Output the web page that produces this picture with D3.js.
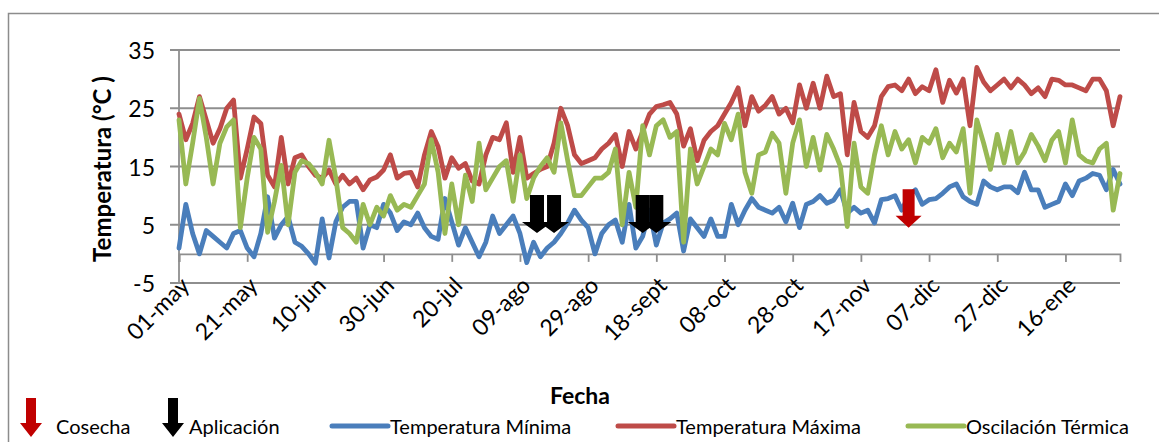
<!DOCTYPE html>
<html>
<head>
<meta charset="utf-8">
<script src="https://cdn.jsdelivr.net/npm/d3@7"></script>
<style>
  body { margin: 0; background: #fff; }
  svg { display: block; font-family: Lato, "Open Sans", sans-serif; }
</style>
</head>
<body>
<div id="chart"></div>
<script>
// one value every 2 days, starting 01-may
const stepDays = 2;

const tmin = [
  1, 8.5, 3.5, 0, 4, 3, 2, 1, 3.5, 4,
  1, -0.5, 3.5, 9.8, 2.7, 5, 6.4, 2, 1.3, 0,
  -1.6, 6, -0.7, 5.5, 8, 9, 9, 1, 5, 4.5,
  8.5, 7, 4, 5.5, 5, 7, 4.5, 3, 2.5, 9.5,
  5.5, 1.5, 4.5, 2, -0.5, 2, 6.5, 3.5, 5, 6.5,
  3.5, -1.5, 2, -0.5, 1, 2, 3.5, 5.3, 7.5, 5.8,
  4.5, 0, 3.5, 5, 5.8, 2, 8.5, 1, 3, 7.5,
  1.5, 5.3, 6, 7, 0.5, 6, 4.5, 3, 6, 3,
  3, 8.5, 5, 7.5, 9.5, 8, 7.5, 7, 8, 5.5,
  8.7, 4.5, 8.5, 9, 10, 8.7, 9.2, 11, 7, 8,
  7, 7.5, 5.3, 9.3, 9.5, 10, 7.5, 10, 11, 8.5,
  9.3, 9.5, 10.4, 11.5, 12, 9.8, 9, 8.5, 12.5, 11.5,
  11, 11.5, 11.5, 10.5, 14, 11, 11, 8, 8.5, 9,
  12, 10, 12.5, 13, 13.8, 13.5, 11, 14.5, 12
];

const tmax = [
  24, 19.6, 22.4, 27, 23, 19, 21.5, 25, 26.4, 13,
  18, 23.5, 22.4, 13.5, 11.5, 20, 12, 16.5, 17, 15,
  13.5, 13, 14.4, 12, 13.5, 12, 13, 11, 12.7, 13.2,
  14.4, 17, 13, 13.8, 14, 11.5, 17, 21, 18.4, 13,
  16.5, 14.7, 15.5, 12.5, 12, 17, 20, 19.6, 22.5, 14,
  20, 13, 13.8, 14.5, 15, 19, 25, 22, 17, 15.5,
  16, 16.5, 18, 19, 20.5, 15, 21, 18, 21, 24,
  25.3, 25.6, 26, 24, 18.5, 21.5, 16, 19.5, 21, 22,
  24, 26, 28.5, 22, 27, 24.5, 25.5, 27, 24, 25,
  22.5, 29, 25, 29.3, 25, 30.5, 27, 27.5, 17, 26,
  21, 20, 22, 27, 28.7, 29, 28, 30, 27.5, 28.7,
  28, 31.6, 26, 29.8, 27.6, 30, 22, 32, 29.5, 28,
  29, 30, 28.5, 30, 29, 27.5, 28.5, 27, 30, 29.8,
  29, 29, 28.5, 28, 30, 30, 28, 22, 27
];

const oscil = [
  23, 12, 19, 26.7, 20, 12, 19, 21.8, 23, 4.5,
  13, 20, 18, 3.7, 9, 15.2, 5, 14, 16, 15.5,
  14, 12, 19.5, 13, 4.5, 3.5, 2, 8.5, 5, 8,
  6.5, 10, 7.5, 8.5, 8, 10, 12, 19.6, 14, 3.5,
  12, 5, 13.5, 9, 19, 11, 13, 15, 16, 9,
  17, 9.5, 13, 15, 16.5, 14, 22.5, 16, 10, 10,
  11.5, 13, 13, 14, 18, 5, 14, 8, 22, 17,
  22, 23, 20, 21, 2, 18, 12, 15, 18, 17,
  22.4, 19.6, 24, 14, 10.4, 17, 17.5, 20.7, 19, 10.4,
  19, 23, 15, 20, 14.4, 20.5, 18, 15, 4.7, 19,
  11.5, 10.4, 17, 22, 17, 21, 18, 19.6, 15.6, 20,
  19, 21.5, 16.5, 19, 17.5, 21.5, 10.4, 23, 19, 14.5,
  20.5, 15.6, 21, 15.6, 17.5, 20.5, 18.5, 16, 19.5, 21,
  15.6, 23, 17, 16, 15.6, 18, 19, 7.5, 13.8
];

const tickDays = [0, 20, 40, 60, 80, 100, 120, 140, 160, 180, 200, 220, 240, 260];
const tickLabels = ["01-may", "21-may", "10-jun", "30-jun", "20-jul", "09-ago", "29-ago",
  "18-sept", "08-oct", "28-oct", "17-nov", "07-dic", "27-dic", "16-ene"];
const yTicks = [-5, 5, 15, 25, 35];

// event days (days after 01-may)
const aplicacionDays = [105, 110, 136, 140];
const cosechaDays = [214];

const seriesNames = ["Temperatura Mínima", "Temperatura Máxima", "Oscilación Térmica"];
const seriesColors = ["#4a7ebb", "#be4b48", "#98b954"];

const width = 1159, height = 442;
const svg = d3.select("#chart").append("svg")
  .attr("width", width)
  .attr("height", height);

// outer chart border (runs off the right and bottom edge)
svg.append("rect")
  .attr("x", 8.5).attr("y", 13.5)
  .attr("width", 1300).attr("height", 600)
  .attr("fill", "none")
  .attr("stroke", "#8c8c8c")
  .attr("stroke-width", 1.5);

const lastDay = (tmax.length - 1) * stepDays;
const x = d3.scaleLinear().domain([0, lastDay]).range([179, 1120]);
const y = d3.scaleLinear().domain([-5, 35]).range([283, 50]);

const gridColor = "#8e8e8e";

// horizontal gridlines + y labels
const gy = svg.append("g");
gy.selectAll("line").data(yTicks).enter().append("line")
  .attr("x1", 170).attr("x2", 1120)
  .attr("y1", d => y(d)).attr("y2", d => y(d))
  .attr("stroke", gridColor).attr("stroke-width", 1.8);
gy.selectAll("text").data(yTicks).enter().append("text")
  .attr("x", 155).attr("y", d => y(d))
  .attr("text-anchor", "end")
  .attr("dominant-baseline", "central")
  .attr("font-size", 23)
  .attr("fill", "#000")
  .text(d => d);

// y axis line
svg.append("line")
  .attr("x1", 179).attr("x2", 179)
  .attr("y1", y(35)).attr("y2", y(-5))
  .attr("stroke", gridColor).attr("stroke-width", 1.8);

// category axis crossing at 0
const xAxis = d3.axisBottom(x)
  .tickValues(tickDays)
  .tickSize(8)
  .tickFormat("");
const gx = svg.append("g")
  .attr("transform", `translate(0,${y(0)})`)
  .call(xAxis);
gx.select(".domain").attr("stroke", gridColor).attr("stroke-width", 1.8);
gx.selectAll(".tick line").attr("stroke", gridColor).attr("stroke-width", 1.8);

// rotated date labels
svg.append("g").selectAll("text").data(tickDays).enter().append("text")
  .attr("transform", d => `translate(${x(d) + 12},${287}) rotate(-45)`)
  .attr("text-anchor", "end")
  .attr("font-size", 23)
  .attr("fill", "#000")
  .text((d, i) => tickLabels[i]);

// axis titles
svg.append("text")
  .attr("transform", "translate(111,169) rotate(-90)")
  .attr("text-anchor", "middle")
  .attr("font-size", 24)
  .attr("font-weight", "bold")
  .text("Temperatura (°C )");

svg.append("text")
  .attr("x", 580).attr("y", 404)
  .attr("text-anchor", "middle")
  .attr("font-size", 23)
  .attr("font-weight", "bold")
  .text("Fecha");

// series lines
const line = d3.line()
  .x((d, i) => x(i * stepDays))
  .y(d => y(d));

[tmin, tmax, oscil].forEach((s, k) => {
  svg.append("path")
    .datum(s)
    .attr("d", line)
    .attr("fill", "none")
    .attr("stroke", seriesColors[k])
    .attr("stroke-width", 4.8)
    .attr("stroke-linejoin", "round")
    .attr("stroke-linecap", "round");
});

// block arrow pointing down, cx centre, top/tip in px
function arrowPath(cx, top, tip, shaftW, headW, headH) {
  const s = shaftW / 2, h = headW / 2, sh = tip - headH;
  return `M${cx - s},${top}L${cx + s},${top}L${cx + s},${sh}L${cx + h},${sh}` +
    `L${cx},${tip}L${cx - h},${sh}L${cx - s},${sh}Z`;
}

svg.append("g").selectAll("path").data(aplicacionDays).enter().append("path")
  .attr("d", d => arrowPath(x(d), y(10.1), y(3.6), 14, 30, 11))
  .attr("fill", "#000");

svg.append("g").selectAll("path").data(cosechaDays).enter().append("path")
  .attr("d", d => arrowPath(x(d), y(11.1), y(4.5), 12, 26, 12))
  .attr("fill", "#c00000");

// legend
const legY = 426;
const leg = svg.append("g").attr("font-size", 20);
leg.append("path").attr("d", arrowPath(31, 398, 437, 10, 22, 14)).attr("fill", "#c00000");
leg.append("text").attr("x", 56).attr("y", legY).attr("dominant-baseline", "central").text("Cosecha");
leg.append("path").attr("d", arrowPath(173, 398, 437, 10, 22, 14)).attr("fill", "#000");
leg.append("text").attr("x", 189).attr("y", legY).attr("dominant-baseline", "central").text("Aplicación");

const legendX = [332, 618, 908];
seriesNames.forEach((name, k) => {
  leg.append("line")
    .attr("x1", legendX[k]).attr("x2", legendX[k] + 56)
    .attr("y1", legY).attr("y2", legY)
    .attr("stroke", seriesColors[k])
    .attr("stroke-width", 5)
    .attr("stroke-linecap", "round");
  leg.append("text")
    .attr("x", legendX[k] + 58).attr("y", legY)
    .attr("dominant-baseline", "central")
    .text(name);
});
</script>
</body>
</html>
